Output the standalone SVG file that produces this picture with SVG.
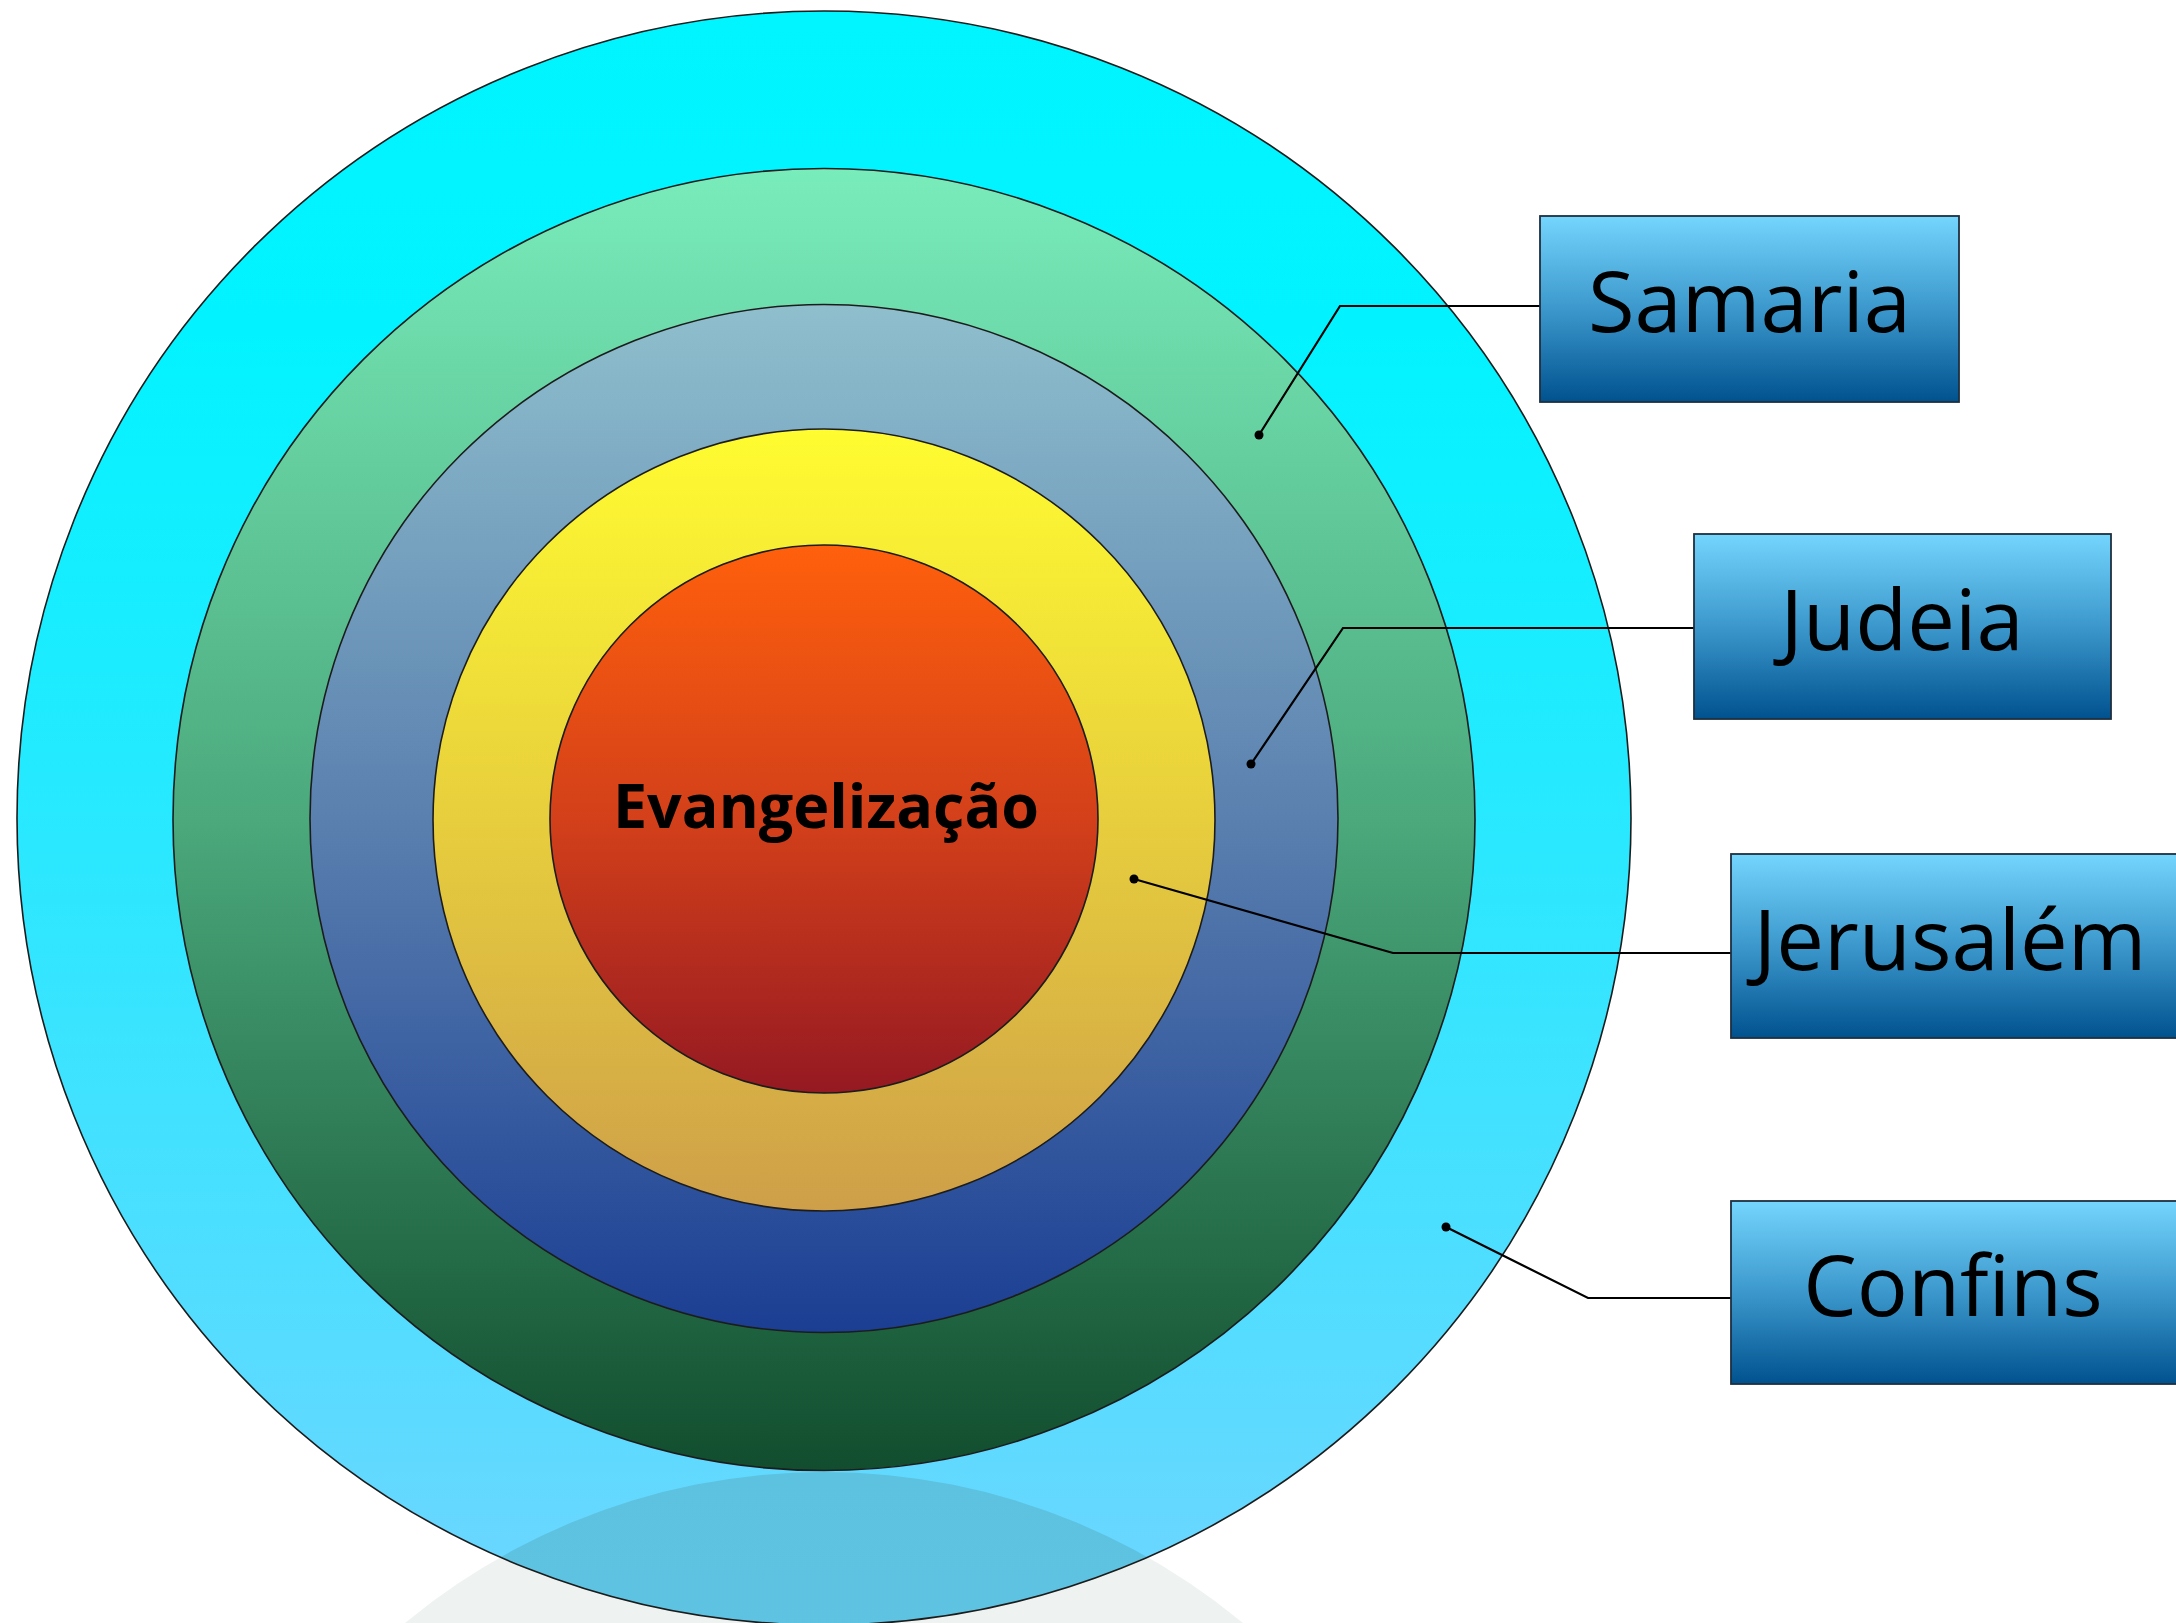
<svg xmlns="http://www.w3.org/2000/svg" width="2176" height="1623" viewBox="0 0 2176 1623">
<style>
.ring{stroke:#1c1c1c;stroke-width:1.6}
.box{stroke:#1e2f40;stroke-width:1.8;fill:url(#gBox)}
.lbl{font-family:"Open Sans","Noto Sans","Liberation Sans",sans-serif;font-size:85px;fill:#000;text-anchor:middle}
.core{font-family:"Open Sans","Noto Sans","Liberation Sans",sans-serif;font-size:61px;font-weight:bold;fill:#000;text-anchor:middle}
.conn{fill:none;stroke:#000;stroke-width:2.2}
.dot{fill:#000}
</style>
<defs>
<linearGradient id="gCyan" x1="0" y1="0" x2="0" y2="1"><stop offset="0" stop-color="#00F5FF"/><stop offset="0.2" stop-color="#02F3FF"/><stop offset="0.55" stop-color="#2EE7FF"/><stop offset="1" stop-color="#6FD5FF"/></linearGradient>
<linearGradient id="gGreen" x1="0" y1="0" x2="0" y2="1"><stop offset="0" stop-color="#79ECBB"/><stop offset="0.5" stop-color="#4BA97C"/><stop offset="1" stop-color="#114D2E"/></linearGradient>
<linearGradient id="gBlue" x1="0" y1="0" x2="0" y2="1"><stop offset="0" stop-color="#8FBFCD"/><stop offset="0.5" stop-color="#5A80AF"/><stop offset="1" stop-color="#1B3E93"/></linearGradient>
<linearGradient id="gYellow" x1="0" y1="0" x2="0" y2="1"><stop offset="0" stop-color="#FFFC30"/><stop offset="0.5" stop-color="#E7CE3D"/><stop offset="1" stop-color="#CE9F49"/></linearGradient>
<linearGradient id="gRed" x1="0" y1="0" x2="0" y2="1"><stop offset="0" stop-color="#FF600C"/><stop offset="0.5" stop-color="#D3401A"/><stop offset="1" stop-color="#951922"/></linearGradient>
<linearGradient id="gBox" x1="0" y1="0" x2="0" y2="1"><stop offset="0" stop-color="#74D5FD"/><stop offset="0.5" stop-color="#3C98CC"/><stop offset="1" stop-color="#00528F"/></linearGradient>
<linearGradient id="gRefl" x1="0" y1="0" x2="0" y2="1"><stop offset="0" stop-color="#5CC2E0"/><stop offset="1" stop-color="#6CCDF0"/></linearGradient>
<clipPath id="cOuter"><circle cx="824" cy="818" r="807"/></clipPath>
</defs>
<g id="reflection">
<circle cx="824" cy="2129" r="657" fill="#EEF2F1"/>
</g>
<g id="confins-ring">
<circle cx="824" cy="818" r="807" fill="url(#gCyan)"/>
<circle cx="824" cy="2129" r="657" fill="url(#gRefl)" clip-path="url(#cOuter)"/>
<circle cx="824" cy="818" r="807" fill="none" class="ring"/>
</g>
<g id="samaria-ring"><circle class="ring" cx="824" cy="819.5" r="651" fill="url(#gGreen)"/></g>
<g id="judeia-ring"><circle class="ring" cx="824" cy="818.5" r="514" fill="url(#gBlue)"/></g>
<g id="jerusalem-ring"><circle class="ring" cx="824" cy="820" r="391" fill="url(#gYellow)"/></g>
<g id="evangelizacao"><circle class="ring" cx="824" cy="819" r="274" fill="url(#gRed)"/>
<text class="core" x="826" y="828">Evangelização</text></g>
<g id="connectors">
<polyline class="conn" points="1259,435 1340,306 1540,306"/>
<circle class="dot" cx="1259" cy="435" r="4.5"/>
<polyline class="conn" points="1251,764 1343,628 1694,628"/>
<circle class="dot" cx="1251" cy="764" r="4.5"/>
<polyline class="conn" points="1134,879 1393,953 1731,953"/>
<circle class="dot" cx="1134" cy="879" r="4.5"/>
<polyline class="conn" points="1446,1227 1588,1298 1731,1298"/>
<circle class="dot" cx="1446" cy="1227" r="4.5"/>
</g>
<g id="box-samaria"><rect class="box" x="1540" y="216" width="419" height="186"/><text class="lbl" x="1749.5" y="332">Samaria</text></g>
<g id="box-judeia"><rect class="box" x="1694" y="534" width="417" height="185"/><text class="lbl" x="1902" y="650">Judeia</text></g>
<g id="box-jerusalem"><rect class="box" x="1731" y="854" width="460" height="184"/><text class="lbl" x="1950" y="970">Jerusalém</text></g>
<g id="box-confins"><rect class="box" x="1731" y="1201" width="460" height="183"/><text class="lbl" x="1953" y="1316">Confins</text></g>
</svg>
